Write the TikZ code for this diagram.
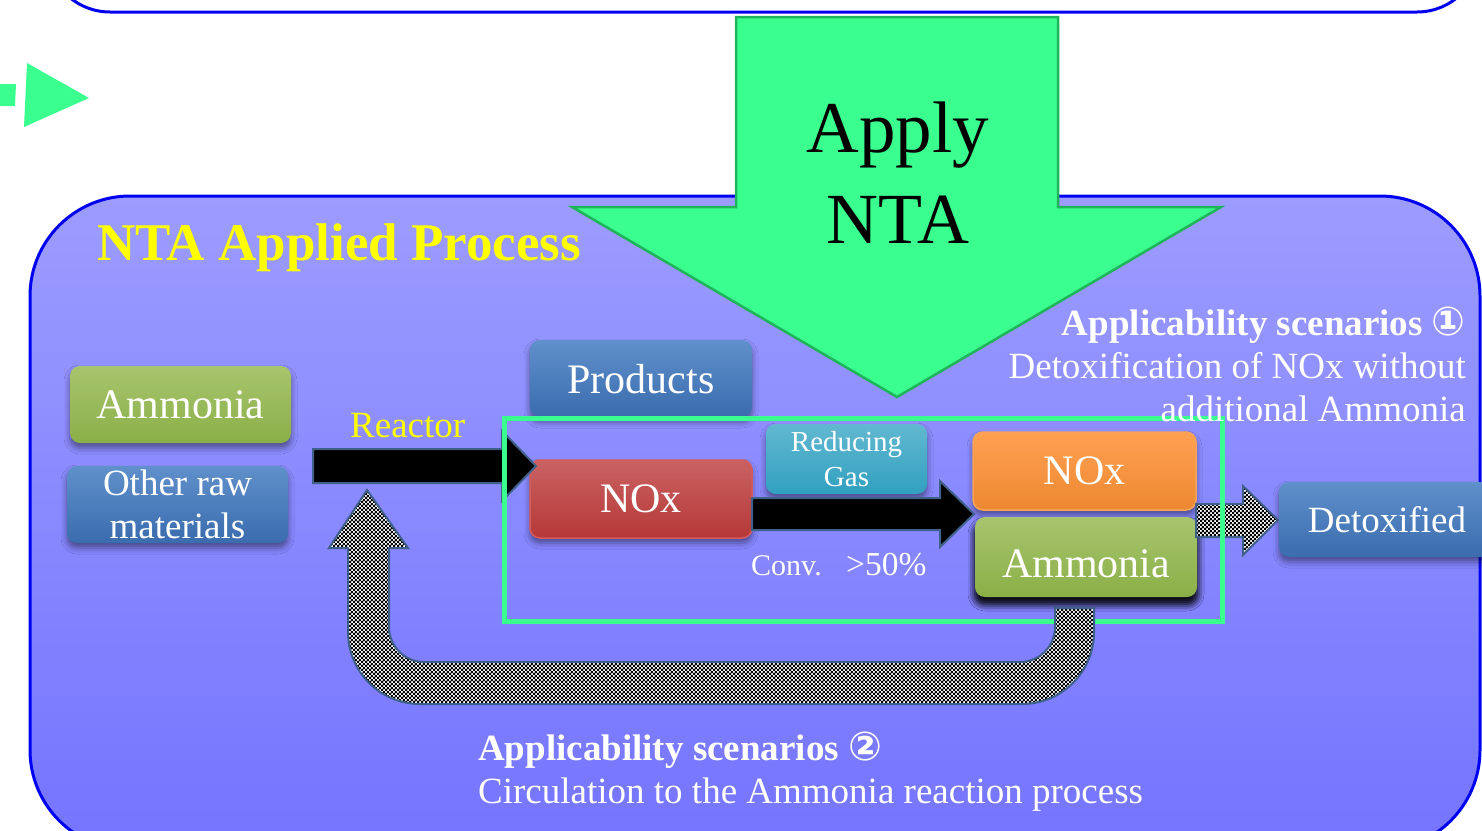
\documentclass[tikz,border=0pt]{standalone}
\usepackage{fontspec}
\setmainfont{Liberation Serif}
\newfontfamily\circfont{DejaVu Sans}
\usetikzlibrary{patterns,shadows.blur}

% fine black-and-white checker used for the recirculation arrows
\pgfdeclarepatternformonly{finecheck}{\pgfpointorigin}{\pgfqpoint{4.4pt}{4.4pt}}{\pgfqpoint{4.4pt}{4.4pt}}{%
  \pgfpathrectangle{\pgfpointorigin}{\pgfqpoint{2.45pt}{2.45pt}}%
  \pgfpathrectangle{\pgfqpoint{2.2pt}{2.2pt}}{\pgfqpoint{2.45pt}{2.45pt}}%
  \pgfusepath{fill}}

\definecolor{mint}{HTML}{3AFF8E}
\definecolor{mintedge}{HTML}{1FB45A}
\definecolor{panelblue}{HTML}{0000F0}
\definecolor{panelT}{HTML}{9C9CFF}
\definecolor{panelB}{HTML}{7474FF}
\definecolor{arrowedge}{HTML}{3F6189}
\definecolor{titleyellow}{HTML}{FFFF00}
\definecolor{greenT}{HTML}{A7C56E}
\definecolor{greenB}{HTML}{8BAF47}
\definecolor{blueT}{HTML}{6090CB}
\definecolor{blueB}{HTML}{3A6CAE}
\definecolor{redT}{HTML}{CA6262}
\definecolor{redB}{HTML}{B63838}
\definecolor{redE}{HTML}{D65A5A}
\definecolor{tealT}{HTML}{62B8D0}
\definecolor{tealB}{HTML}{31A0C0}
\definecolor{orangeT}{HTML}{FFA052}
\definecolor{orangeB}{HTML}{EC8830}
\definecolor{orangeE}{HTML}{F6A45A}

\tikzset{
  panel/.style={draw=panelblue, line width=3pt},
  mintshape/.style={fill=mint, draw=mintedge, line width=2.5pt, line join=miter},
  pbox/.style={rounded corners=10pt, inner sep=0pt, align=center, text=white,
    text depth=0pt,
    blur shadow={shadow xshift=0pt, shadow yshift=-5pt,
      shadow blur radius=6pt, shadow opacity=45}},
  greenbox/.style={pbox, top color=greenT, bottom color=greenB},
  bluebox/.style={pbox, top color=blueT, bottom color=blueB},
  redbox/.style={pbox, top color=redT, bottom color=redB, draw=redE, line width=1.5pt},
  tealbox/.style={pbox, top color=tealT, bottom color=tealB},
  orangebox/.style={pbox, top color=orangeT, bottom color=orangeB, draw=orangeE, line width=1.5pt},
  blockarrow/.style={fill=black, draw=arrowedge, line width=2pt, line join=miter},
  checkarrow/.style={preaction={fill=white}, pattern=finecheck,
    pattern color=black, draw=arrowedge, line width=2pt, line join=miter},
  zoneframe/.style={draw=mint, line width=5pt},
  whitetext/.style={inner sep=0pt, text=white},
  big/.style={font=\fontsize{42}{48}\selectfont},
  mid/.style={font=\fontsize{37}{43}\selectfont},
}

\begin{document}
\begin{tikzpicture}[x=1pt, y=-1pt]
\useasboundingbox (0,0) rectangle (1482,830);
\begin{scope}
\clip (0,0) rectangle (1482,830);

% upper panel and the process panel
\draw[panel, fill=white, rounded corners=63pt] (47,-130) rectangle (1480,12);
\draw[panel, rounded corners=100pt, top color=panelT, bottom color=panelB]
  (30,196) rectangle (1480,850);

% small pointer on the left
\fill[mint] (0,84) -- (16,84) -- (15,106) -- (0,106) -- cycle;
\fill[mint] (27,63) -- (89,98) -- (24,127) -- cycle;

% big "Apply NTA" arrow
\draw[mintshape] (736,17) -- (1058,17) -- (1058,207) -- (1221,207)
  -- (897,397) -- (572,207) -- (736,207) -- cycle;
\node[inner sep=0pt, anchor=base, font=\fontsize{73}{88}\selectfont] (apply) at (898,152) {Apply};
\node[inner sep=0pt, anchor=base, font=\fontsize{72}{88}\selectfont] (nta) at (898,243) {NTA};

% process boxes
\node[greenbox, big, minimum width=221pt, minimum height=77pt] (amm1) at (180.5,404.5) {Ammonia};
\node[bluebox, mid, minimum width=221pt, minimum height=77pt] (raw) at (177.5,504.5) {Other raw\\materials};
\node[bluebox, big, minimum width=222pt, minimum height=77pt] (prod) at (641,378.5) {Products};
\node[redbox, big, minimum width=222pt, minimum height=78pt] (noxr) at (641,499) {NOx};
\node[tealbox, font=\fontsize{29}{35}\selectfont, minimum width=161pt, minimum height=70pt] (gas) at (846.5,459) {Reducing\\Gas};
\node[orangebox, big, minimum width=223pt, minimum height=78pt] (noxo) at (1084.5,471) {NOx};
\node[greenbox, big, minimum width=222pt, minimum height=80pt, text height=40pt,
  blur shadow={shadow xshift=0pt, shadow yshift=-7pt, shadow blur radius=7pt, shadow opacity=75}] (amm2) at (1086,557) {Ammonia};
\node[bluebox, mid, minimum width=216pt, minimum height=75pt] (detox) at (1387,519.5) {Detoxified};

% reactor feed arrow and conversion arrow
\draw[blockarrow] (313,449) -- (502,449) -- (502,431) -- (536,466)
  -- (502,501) -- (502,483) -- (313,483) -- cycle;
\draw[blockarrow] (752,498) -- (940,498) -- (940,481) -- (974,514)
  -- (940,547) -- (940,530) -- (752,530) -- cycle;

% outlet to the detoxified stream
\draw[checkarrow] (1196,504) -- (1243,504) -- (1243,486) -- (1278,520)
  -- (1243,555) -- (1243,537) -- (1196,537) -- cycle;

% reaction zone
\draw[zoneframe] (504,418) rectangle (1222,621);

% recirculation of ammonia back to the reactor
\draw[checkarrow] (367,490) -- (408,548) -- (389,548) -- (389,627)
  .. controls (389,646.3) and (404.7,662) .. (424,662) -- (1020,662)
  .. controls (1039.3,662) and (1055,646.3) .. (1055,627) -- (1055,608)
  -- (1094,608) -- (1094,632)
  .. controls (1094,671.8) and (1061.8,704) .. (1022,704) -- (420,704)
  .. controls (380.2,704) and (348,671.8) .. (348,632) -- (348,548)
  -- (329,548) -- cycle;

% titles and captions
\node[inner sep=0pt, anchor=base west, text=titleyellow,
  font=\fontsize{53}{60}\selectfont\bfseries] (title) at (97,260) {NTA Applied Process};
\node[inner sep=0pt, anchor=base west, text=titleyellow, mid] (reactor) at (350,437) {Reactor};
\node[whitetext, anchor=base west, font=\fontsize{30}{36}\selectfont] (conv) at (751,575) {Conv.};
\node[whitetext, anchor=base west, font=\fontsize{33.5}{36}\selectfont] (rate) at (846,575) {{>}50\%};

\node[whitetext, anchor=base east, font=\fontsize{37}{43}\selectfont\bfseries] (s1a) at (1466,335)
  {Applicability scenarios {\circfont\bfseries\fontsize{40}{43}\selectfont ①}};
\node[whitetext, anchor=base east, mid] (s1b) at (1466,378) {Detoxification of NOx without};
\node[whitetext, anchor=base east, mid] (s1c) at (1466,421) {additional Ammonia};

\node[whitetext, anchor=base west, font=\fontsize{37}{43}\selectfont\bfseries] (s2a) at (478,760)
  {Applicability scenarios {\circfont\bfseries\fontsize{40}{43}\selectfont ②}};
\node[whitetext, anchor=base west, mid] (s2b) at (478,803) {Circulation to the Ammonia reaction process};
\end{scope}
\end{tikzpicture}
\end{document}
